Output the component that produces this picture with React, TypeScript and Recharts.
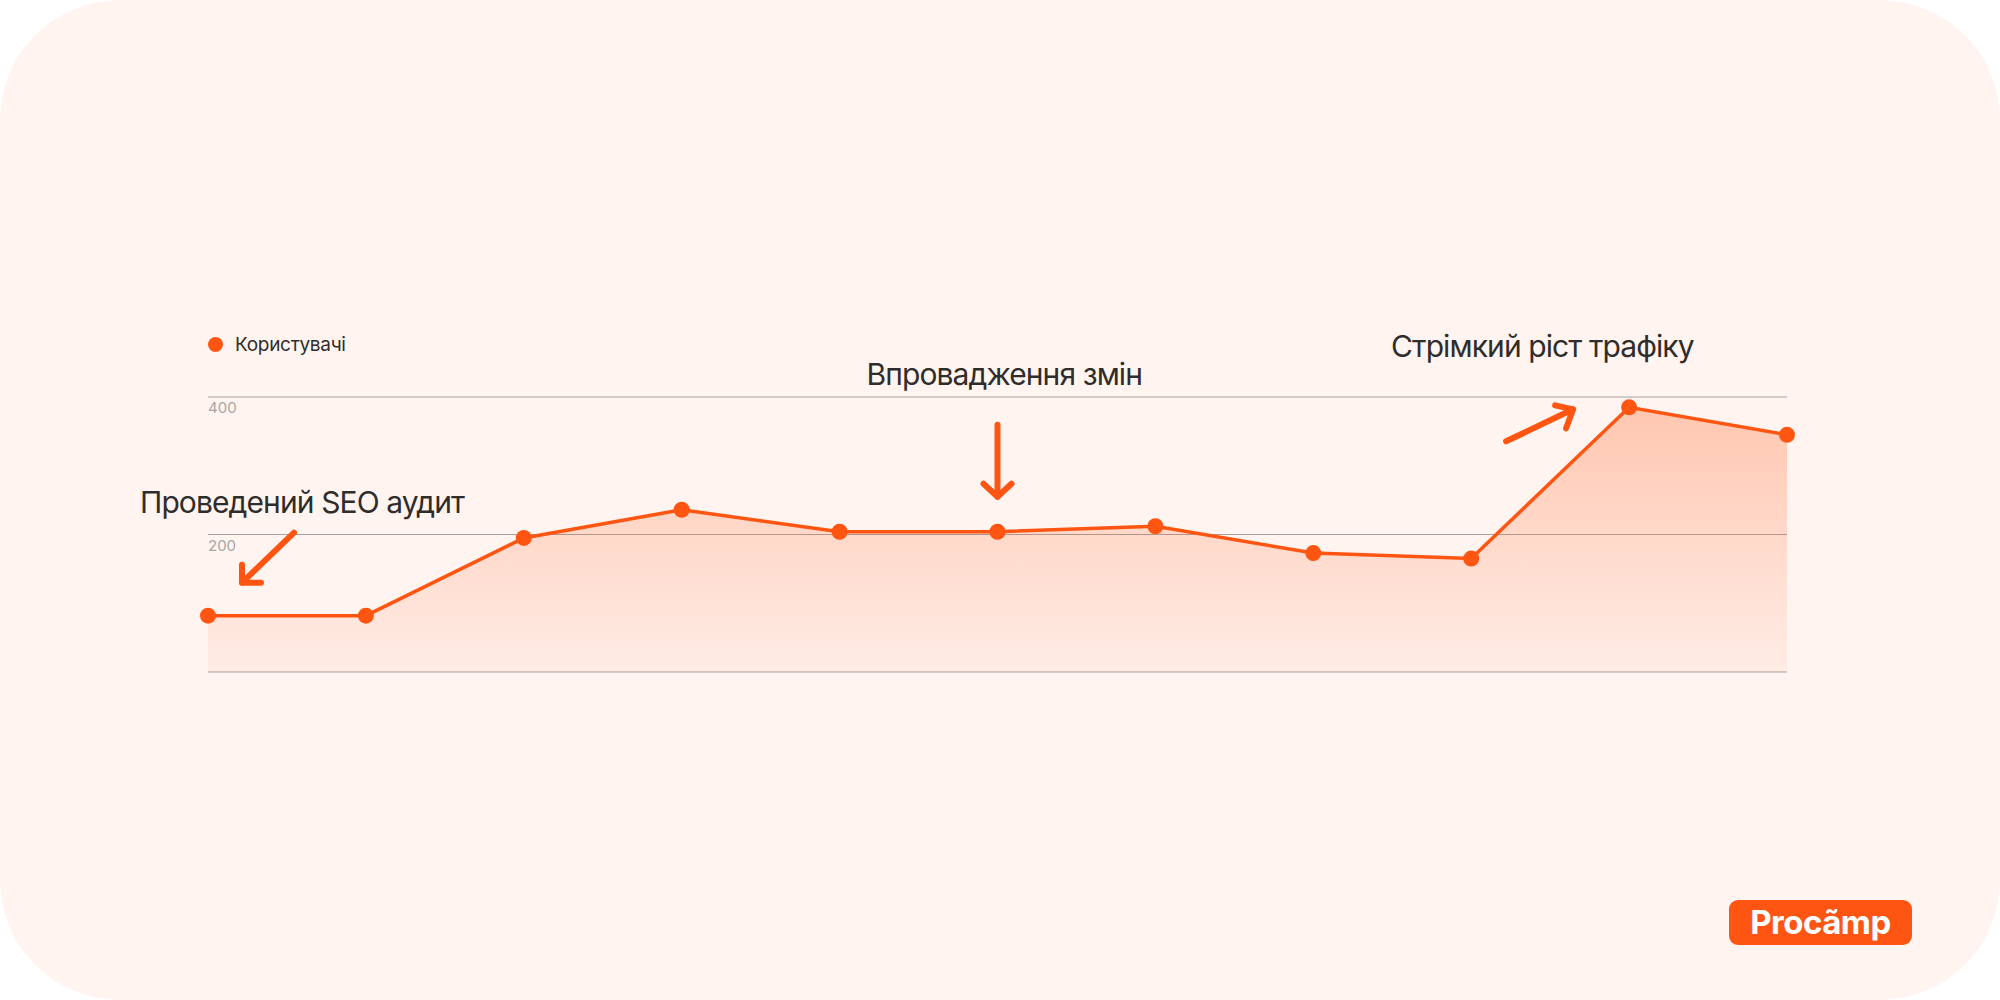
import { AreaChart, Area, XAxis, YAxis, CartesianGrid, Legend, ReferenceDot } from "recharts";

const periods = ["1", "2", "3", "4", "5", "6", "7", "8", "9", "10", "11"];
const users = [82, 82, 195, 236, 204, 204, 212, 173, 165, 385, 345];
const yTicks = [0, 200, 400];
const seriesName = "Користувачі";
const noteAt = ["1", "6", "10"];
const noteText = ["Проведений SEO аудит", "Впровадження змін", "Стрімкий ріст трафіку"];

const data = periods.map((period, i) => ({ period, users: users[i] }));

const ORANGE = "#FF5512";
const TEXT = "#2F2D2C";
const FONT = "Inter, 'Noto Sans', sans-serif";

// arrow + caption offsets relative to the anchored point
const noteLayout = [
  { tx: -68, ty: -103, shaft: [86, -83, 34, -33], head: [[34, -51], [34, -33], [53, -33]] },
  { tx: -131, ty: -147, shaft: [0, -107, 0, -35], head: [[-14, -48], [0, -35], [14, -48]] },
  { tx: -238, ty: -50, shaft: [-123, 34, -56, 2], head: [[-74, -2], [-56, 2], [-63, 21]] },
];

function Note({ cx, cy, idx }: { cx: number; cy: number; idx: number }) {
  const l = noteLayout[idx];
  const [x1, y1, x2, y2] = l.shaft;
  const head = l.head.map(([hx, hy]) => `${cx + hx},${cy + hy}`).join(" ");
  return (
    <g>
      <text x={cx + l.tx} y={cy + l.ty} fill={TEXT} fontSize={30} fontFamily={FONT} letterSpacing={-0.9}>
        {noteText[idx]}
      </text>
      <line x1={cx + x1} y1={cy + y1} x2={cx + x2} y2={cy + y2} stroke={ORANGE} strokeWidth={6} strokeLinecap="round" />
      <polyline points={head} fill="none" stroke={ORANGE} strokeWidth={6} strokeLinecap="round" strokeLinejoin="round" />
    </g>
  );
}

function YTick(props: any) {
  const { y, payload } = props;
  if (!payload || payload.value === 0) return <g />;
  return (
    <text x={208} y={y + 16} fill="#ABA5A3" fontSize={15} fontFamily={FONT} textAnchor="start">
      {payload.value}
    </text>
  );
}

function LegendBox() {
  return (
    <div style={{ display: "flex", alignItems: "center", fontFamily: FONT, fontSize: 19, color: TEXT, letterSpacing: -0.3 }}>
      <span style={{ width: 15, height: 15, borderRadius: "50%", background: ORANGE, display: "inline-block", marginRight: 12 }} />
      {seriesName}
    </div>
  );
}

export default function App() {
  return (
    <div style={{ position: "absolute", left: 0, top: 0, width: 2000, height: 1000, background: "#fff" }}>
      <div style={{ position: "absolute", inset: 0, background: "#FFF4F0", borderRadius: 120 }} />
      <div style={{ position: "absolute", left: 0, top: 0 }}>
        <AreaChart width={2000} height={1000} data={data} margin={{ top: 397, right: 213, bottom: 328, left: 207 }}>
          <defs>
            <linearGradient id="usersFill" x1="0" y1="0" x2="0" y2="1">
              <stop offset="0%" stopColor={ORANGE} stopOpacity={0.48} />
              <stop offset="100%" stopColor={ORANGE} stopOpacity={0.08} />
            </linearGradient>
          </defs>
          <CartesianGrid vertical={false} stroke="#A8A2A0" strokeWidth={1} />
          <XAxis dataKey="period" hide />
          <YAxis
            domain={[0, 400]}
            ticks={yTicks}
            width={1}
            axisLine={false}
            tickLine={false}
            tickSize={0}
            tickMargin={0}
            interval={0}
            tick={(p: any) => <YTick {...p} />}
          />
          <Legend
            layout="vertical"
            align="center"
            verticalAlign="middle"
            wrapperStyle={{ left: 208, top: 333, width: "auto" }}
            content={() => <LegendBox />}
          />
          <Area
            type="linear"
            dataKey="users"
            name={seriesName}
            stroke={ORANGE}
            strokeWidth={3.5}
            fill="url(#usersFill)"
            dot={{ r: 8, fill: ORANGE, fillOpacity: 1, stroke: "none" }}
            activeDot={false}
            isAnimationActive={false}
          />
          {noteAt.map((at, i) => (
            <ReferenceDot
              key={at}
              x={at}
              y={users[periods.indexOf(at)]}
              r={1}
              shape={(p: any) => <Note cx={p.cx} cy={p.cy} idx={i} />}
            />
          ))}
        </AreaChart>
      </div>
      <div
        style={{
          position: "absolute",
          left: 1729,
          top: 900,
          width: 183,
          height: 45,
          background: ORANGE,
          borderRadius: 9,
          color: "#fff",
          fontFamily: FONT,
          fontWeight: 700,
          fontSize: 33,
          lineHeight: "45px",
          textAlign: "center",
          letterSpacing: -0.5,
        }}
      >
        Procãmp
      </div>
    </div>
  );
}
